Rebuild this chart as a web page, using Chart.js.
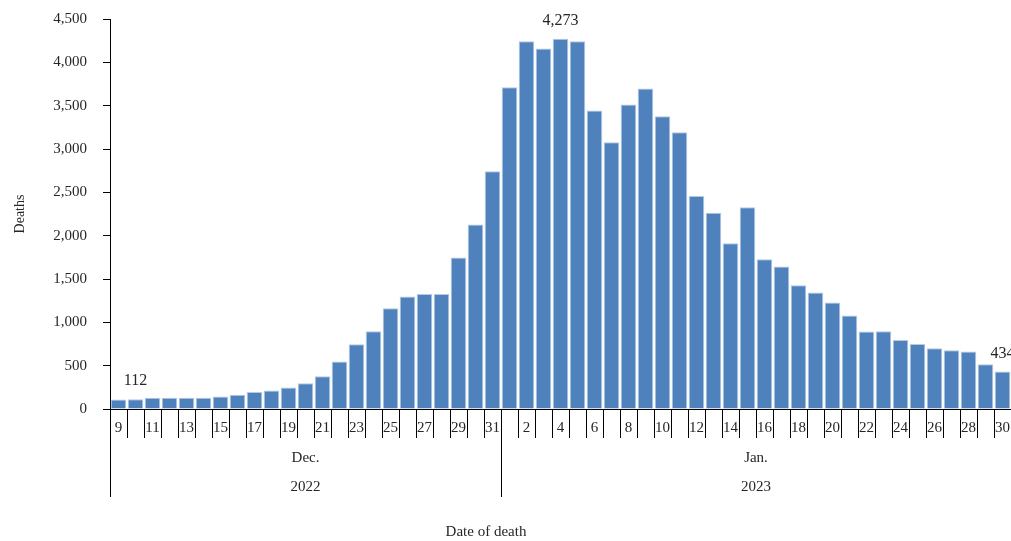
<!DOCTYPE html>
<html lang="en">

<head>
    <meta charset="UTF-8">
    <title>Deaths by date of death</title>
    <script src="https://cdn.jsdelivr.net/npm/chart.js"></script>
    <style>
        html, body { margin: 0; padding: 0; background: #fff; }
        .chart-container { width: 1011px; height: 541px; }
    </style>
</head>

<body>
    <div class="chart-container">
        <canvas id="deathChart"></canvas>
    </div>

    <script>
        // days of Dec 2022 and Jan 2023
        const decDays = [9, 10, 11, 12, 13, 14, 15, 16, 17, 18, 19, 20, 21, 22, 23, 24, 25, 26, 27, 28, 29, 30, 31];
        const janDays = [1, 2, 3, 4, 5, 6, 7, 8, 9, 10, 11, 12, 13, 14, 15, 16, 17, 18, 19, 20, 21, 22, 23, 24, 25, 26, 27, 28, 29, 30];

        const decDeaths = [110, 112, 130, 130, 130, 130, 145, 163, 197, 213, 247, 297, 378, 547, 747, 897, 1163, 1297, 1328, 1328, 1747, 2128, 2743];
        const janDeaths = [3713, 4244, 4159, 4273, 4244, 3444, 3078, 3513, 3698, 3378, 3194, 2459, 2263, 1913, 2328, 1728, 1644, 1428, 1344, 1228, 1078, 894, 896, 797, 750, 700, 679, 663, 515, 434];

        const months = [
            { name: 'Dec.', year: '2022', count: decDays.length },
            { name: 'Jan.', year: '2023', count: janDays.length }
        ];

        // bars that carry a value label (index into the full series)
        const labelledBars = [1, 26, 52];

        const yTicks = [0, 500, 1000, 1500, 2000, 2500, 3000, 3500, 4000, 4500];

        const labels = decDays.concat(janDays).map(String);
        const deaths = decDeaths.concat(janDeaths);

        const serif = '"Liberation Serif", "DejaVu Serif", serif';
        const textColor = '#262626';

        const groupAxisPlugin = {
            id: 'groupAxis',
            afterDraw(chart) {
                const ctx = chart.ctx;
                const x = chart.scales.x;
                const half = (x.getPixelForValue(1) - x.getPixelForValue(0)) / 2;
                const top = chart.chartArea.bottom;
                ctx.save();
                ctx.strokeStyle = '#000';
                ctx.lineWidth = 1;
                ctx.fillStyle = textColor;
                ctx.font = '15px ' + serif;
                ctx.textAlign = 'center';
                ctx.textBaseline = 'middle';
                let start = 0;
                months.forEach((m) => {
                    const left = x.getPixelForValue(start) - half;
                    const right = x.getPixelForValue(start + m.count - 1) + half;
                    ctx.beginPath();
                    ctx.moveTo(Math.round(left) + 0.5, top);
                    ctx.lineTo(Math.round(left) + 0.5, top + 88);
                    ctx.stroke();
                    const mid = (left + right) / 2;
                    ctx.fillText(m.name, mid, top + 49);
                    ctx.fillText(m.year, mid, top + 78);
                    start += m.count;
                });
                ctx.fillText('Date of death', 486, 532);

                // value labels
                const meta = chart.getDatasetMeta(0);
                ctx.font = '16px ' + serif;
                labelledBars.forEach((i) => {
                    const bar = meta.data[i];
                    ctx.fillText(deaths[i].toLocaleString('en-US'), bar.x, bar.y - 18);
                });
                ctx.restore();
            }
        };

        const ctx = document.getElementById('deathChart').getContext('2d');
        new Chart(ctx, {
            type: 'bar',
            data: {
                labels: labels,
                datasets: [{
                    label: 'Deaths',
                    data: deaths,
                    backgroundColor: '#4F81BD',
                    borderColor: '#b4c9e4',
                    borderWidth: 1,
                    barPercentage: 0.92,
                    categoryPercentage: 1
                }]
            },
            options: {
                responsive: true,
                maintainAspectRatio: false,
                animation: false,
                layout: { padding: { top: 19, right: 0, left: 0, bottom: 0 } },
                plugins: {
                    legend: { display: false },
                    tooltip: { enabled: false }
                },
                scales: {
                    x: {
                        grid: {
                            offset: true,
                            drawOnChartArea: false,
                            tickLength: 29,
                            color: '#000'
                        },
                        border: { color: '#000', width: 1 },
                        ticks: {
                            autoSkip: false,
                            maxRotation: 0,
                            padding: -19,
                            color: textColor,
                            font: { family: serif, size: 15 },
                            callback: (v, i) => (i % 2 === 0 ? labels[i] : '')
                        },
                        afterFit: (scale) => {
                            scale.height = 132;
                            scale.paddingLeft = 0;
                            scale.paddingRight = 0;
                        }
                    },
                    y: {
                        min: 0,
                        max: 4500,
                        afterBuildTicks: (scale) => { scale.ticks = yTicks.map((v) => ({ value: v })); },
                        grid: {
                            drawOnChartArea: false,
                            tickLength: 7,
                            color: '#000'
                        },
                        border: { color: '#000', width: 1 },
                        ticks: {
                            padding: 16,
                            color: textColor,
                            font: { family: serif, size: 15 },
                            callback: (v) => v.toLocaleString('en-US')
                        },
                        title: {
                            display: true,
                            text: 'Deaths',
                            color: textColor,
                            font: { family: serif, size: 14 },
                            padding: { top: 12, bottom: 0 }
                        },
                        afterFit: (scale) => {
                            scale.width = 110;
                            scale.paddingTop = 0;
                            scale.paddingBottom = 0;
                        }
                    }
                }
            },
            plugins: [groupAxisPlugin]
        });
    </script>
</body>

</html>
